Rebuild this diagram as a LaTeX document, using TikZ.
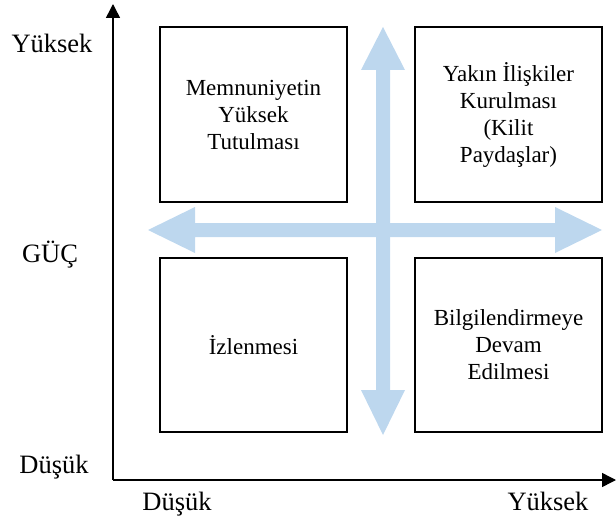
\documentclass[tikz,border=0pt]{standalone}
\usepackage{fontspec}
\setmainfont{Liberation Serif}
\usetikzlibrary{arrows.meta}
\definecolor{lightblue}{RGB}{189,215,238}
\begin{document}
\begin{tikzpicture}[x=1pt,y=-1pt,
  quad/.style={draw=black,line width=1.8pt,minimum width=187pt,minimum height=175pt,
    align=center,inner sep=0pt,font=\fontsize{23}{27}\selectfont},
  axislabel/.style={anchor=base,inner sep=0pt,font=\fontsize{26.5}{30}\selectfont},
  axis/.style={line width=1.5pt,-{Triangle[width=14pt,length=14pt]}},
  bluearrow/.style={fill=lightblue,draw=none}]
\useasboundingbox (0,0) rectangle (616,519);
% blue double arrows
\fill[bluearrow] (148,230) -- (195,207) -- (195,223) -- (555,223) -- (555,207) -- (602,230)
  -- (555,253) -- (555,237) -- (195,237) -- (195,253) -- cycle;
\fill[bluearrow] (383,27) -- (405,70) -- (390,70) -- (390,390) -- (405,390) -- (383,435)
  -- (361,390) -- (376,390) -- (376,70) -- (361,70) -- cycle;
% boxes
\node[quad] (tl) at (253.5,114.5) {Memnuniyetin\\Yüksek\\Tutulması};
\node[quad] (tr) at (508.5,114.5) {Yakın İlişkiler\\Kurulması\\(Kilit\\Paydaşlar)};
\node[quad,minimum height=174pt] (bl) at (253.5,345) {İzlenmesi};
\node[quad,minimum height=174pt] (br) at (508.5,345) {Bilgilendirmeye\\Devam\\Edilmesi};
% axes
\coordinate (origin) at (113,480);
\coordinate (ytop) at (113,4);
\coordinate (xend) at (616,480);
\draw[axis] (origin) -- (ytop);
\draw[axis] (origin) -- (xend);
% labels
\node[axislabel] (yhigh) at (52,53) {Yüksek};
\node[axislabel] (power) at (50,262) {GÜÇ};
\node[axislabel] (ylow) at (54,473) {Düşük};
\node[axislabel] (xlow) at (177,510) {Düşük};
\node[axislabel] (xhigh) at (548,510) {Yüksek};
\end{tikzpicture}
\end{document}
